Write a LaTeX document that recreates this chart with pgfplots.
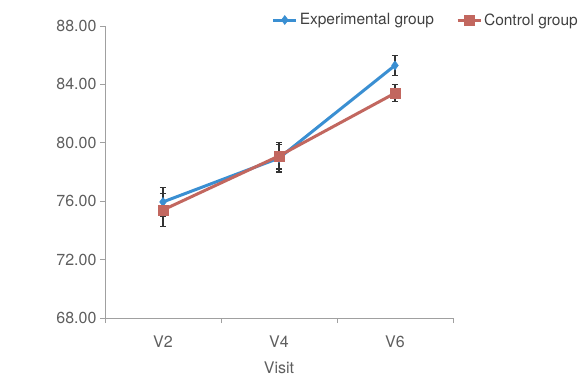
\documentclass[border=0pt]{standalone}
\usepackage{fontspec}
\setmainfont{TeX Gyre Heros}
\usepackage{pgfplots}
\pgfplotsset{compat=1.18}
\definecolor{expblue}{HTML}{3A8FD2}
\definecolor{ctlred}{HTML}{C2675F}
\definecolor{axgray}{HTML}{A0A0A0}
\definecolor{txtgray}{HTML}{5E5E5E}
\begin{document}
\begin{tikzpicture}
\useasboundingbox (-105pt,-60pt) rectangle (477pt,318pt);
\begin{axis}[
  at={(0,0)}, anchor=south west,
  scale only axis, width=348pt, height=292pt,
  xmin=-0.5, xmax=2.5, ymin=68, ymax=88,
  axis x line*=bottom, axis y line*=left,
  axis line style={axgray, line width=0.8pt},
  xtick={0,1,2}, xticklabels={V2,V4,V6},
  minor xtick={-0.5,0.5,1.5,2.5},
  ytick={68,72,76,80,84,88},
  tick style={axgray, line width=0.8pt},
  tick align=outside,
  major x tick style={draw=none},
  minor tick length=5pt, major tick length=5pt,
  yticklabel style={/pgf/number format/.cd, fixed, fixed zerofill, precision=2, assume math mode=true},
  xticklabel style={yshift=-9pt},
  every tick label/.append style={font=\fontsize{16}{18}\selectfont, text=txtgray},
  xlabel={Visit},
  label style={font=\fontsize{16}{18}\selectfont, text=txtgray},
  xlabel style={at={(axis description cs:0.5,0)}, anchor=center, yshift=-50pt},
  legend columns=2,
  legend style={draw=none, fill=none, at={(1.365,1.0205)}, anchor=east, inner sep=0pt,
    font=\fontsize{15.5}{17}\selectfont, text=black!75,
    /tikz/every even column/.append style={column sep=20pt}},
  legend cell align=left,
  legend image code/.code={\draw[#1] (0pt,0pt) -- (23pt,0pt); \draw[#1, only marks] plot coordinates {(11.5pt,0pt)};},
]
\addplot+[expblue, line width=3pt, mark=diamond*, mark size=4.5pt, mark options={fill=expblue, draw=expblue, line width=0.5pt},
  error bars/.cd, y dir=both, y explicit, error bar style={black!80, line width=1.3pt}, error mark options={rotate=90, mark size=3pt, black!80, line width=1.3pt}]
  coordinates {(0,75.95) +- (0,1.0) (1,78.95) +- (0,0.95) (2,85.3) +- (0,0.68)};
\addlegendentry{Experimental group}
\addplot+[ctlred, line width=3pt, mark=square*, mark size=5pt, mark options={fill=ctlred, draw=ctlred, line width=0.5pt},
  error bars/.cd, y dir=both, y explicit, error bar style={black!80, line width=1.3pt}, error mark options={rotate=90, mark size=3pt, black!80, line width=1.3pt}]
  coordinates {(0,75.4) +- (0,1.15) (1,79.1) +- (0,0.9) (2,83.4) +- (0,0.58)};
\addlegendentry{Control group}
\end{axis}
\end{tikzpicture}
\end{document}
